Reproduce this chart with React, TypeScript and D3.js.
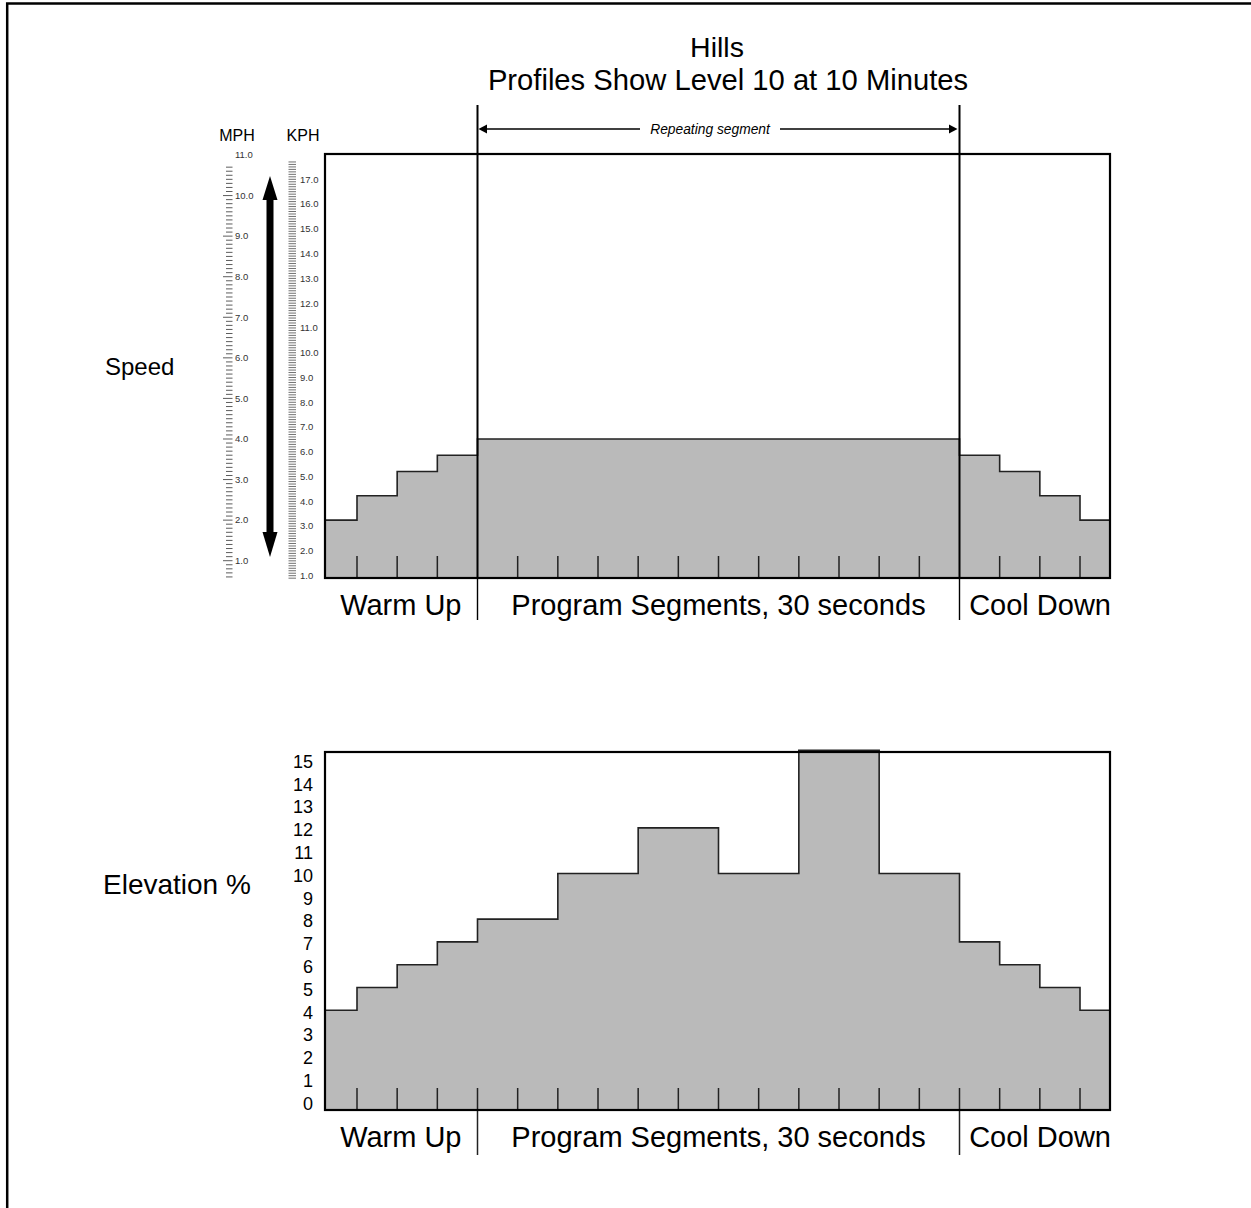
import React from 'react';
import * as d3 from 'd3';

// ---- data ----
const titleLines = ['Hills', 'Profiles Show Level 10 at 10 Minutes'];
const phaseLabels = ['Warm Up', 'Program Segments, 30 seconds', 'Cool Down'];
const phaseBounds = [4, 16]; // segment index where program starts / cool-down starts
const speedMph = [2.0, 2.6, 3.2, 3.6, 4.0, 4.0, 4.0, 4.0, 4.0, 4.0, 4.0, 4.0, 4.0, 4.0, 4.0, 4.0, 3.6, 3.2, 2.6, 2.0];
const elevationPct = [4, 5, 6, 7, 8, 8, 10, 10, 12, 12, 10, 10, 15.4, 15.4, 10, 10, 7, 6, 5, 4];
const mphLabels = [1, 2, 3, 4, 5, 6, 7, 8, 9, 10, 11];
const kphLabels = [1, 2, 3, 4, 5, 6, 7, 8, 9, 10, 11, 12, 13, 14, 15, 16, 17];
const elevationLabels = [0, 1, 2, 3, 4, 5, 6, 7, 8, 9, 10, 11, 12, 13, 14, 15];
const mphMinorRange = [6, 107]; // tenths of mph
const kphMinorRange = [9, 177]; // tenths of kph

const FONT = '"Liberation Sans", Arial, Helvetica, sans-serif';

export default function App() {
  const W = 1251, H = 1208;
  const L = 325, R = 1110;
  const x = d3.scaleLinear().domain([1, 19]).range([357, 1080]);
  const xc = (i: number) => Math.max(L, Math.min(R, x(i)));

  const topT = 154, topB = 578;
  const botT = 752, botB = 1110;
  const ySpeed = d3.scaleLinear().domain([1, 11]).range([560.7, 155]);
  const yKph = d3.scaleLinear().domain([1, 17]).range([575.7, 179.3]);
  const yElev = d3.scaleLinear().domain([0, 15]).range([1101.5, 759.5]);

  const stepPts = (vals: number[], y: (v: number) => number): [number, number][] =>
    vals.map((v, i) => [xc(i), y(v)] as [number, number]).concat([[R, y(vals[vals.length - 1])]]);

  const line = d3.line().curve(d3.curveStepAfter);
  const areaTop = d3.area().x(d => d[0]).y0(topB).y1(d => d[1]).curve(d3.curveStepAfter);
  const areaBot = d3.area().x(d => d[0]).y0(botB).y1(d => d[1]).curve(d3.curveStepAfter);

  const speedPts = stepPts(speedMph, ySpeed);
  const elevPts = stepPts(elevationPct, yElev);

  const tickIdx = d3.range(1, speedMph.length);
  const xProg = x(phaseBounds[0]);
  const xCool = x(phaseBounds[1]);

  const phaseText = (baseline: number) => (
    <g fontFamily={FONT} fontSize={29} fill="#000">
      <text x={xProg - 16} y={baseline} textAnchor="end">{phaseLabels[0]}</text>
      <text x={(xProg + xCool) / 2} y={baseline} textAnchor="middle">{phaseLabels[1]}</text>
      <text x={R + 1} y={baseline} textAnchor="end">{phaseLabels[2]}</text>
    </g>
  );

  const mphMinor = d3.range(mphMinorRange[0], mphMinorRange[1] + 1).map(v => v / 10);
  const kphMinor = d3.range(kphMinorRange[0], kphMinorRange[1] + 1).map(v => v / 10);

  return (
    <svg width={W} height={H} style={{ position: 'absolute', left: 0, top: 0, background: '#fff' }}>
      <rect x={0} y={0} width={W} height={H} fill="#fff" />
      {/* outer border */}
      <path d={`M7.2,${H} V3.5 H${W}`} fill="none" stroke="#000" strokeWidth={2.5} />

      {/* titles */}
      <text x={717} y={57} textAnchor="middle" fontFamily={FONT} fontSize={28.5}>{titleLines[0]}</text>
      <text x={728} y={90} textAnchor="middle" fontFamily={FONT} fontSize={29.2}>{titleLines[1]}</text>

      {/* repeating segment arrow */}
      <g stroke="#000" strokeWidth={1.3}>
        <line x1={482} x2={640} y1={129} y2={129} />
        <line x1={780} x2={954} y1={129} y2={129} />
      </g>
      <path d="M478.5,129 L487,124.5 L487,133.5 Z" fill="#000" />
      <path d="M957.5,129 L949,124.5 L949,133.5 Z" fill="#000" />
      <text x={710} y={134} textAnchor="middle" fontFamily={FONT} fontStyle="italic" fontSize={13.8}>Repeating segment</text>

      {/* side labels */}
      <text x={105} y={375} fontFamily={FONT} fontSize={24}>Speed</text>
      <text x={103} y={894} fontFamily={FONT} fontSize={28}>Elevation %</text>

      {/* MPH / KPH headers */}
      <text x={237} y={141} textAnchor="middle" fontFamily={FONT} fontSize={16}>MPH</text>
      <text x={303} y={141} textAnchor="middle" fontFamily={FONT} fontSize={16}>KPH</text>

      {/* MPH ruler */}
      <g stroke="#333" strokeWidth={0.8}>
        {mphMinor.map(v => (
          <line key={'m' + v} x1={Math.abs(v - Math.round(v)) < 1e-6 ? 223 : 226} x2={232.5} y1={ySpeed(v)} y2={ySpeed(v)} />
        ))}
      </g>
      <g fontFamily={FONT} fontSize={9.5} fill="#333">
        {mphLabels.map(v => (
          <text key={'ml' + v} x={235} y={ySpeed(v)} dy="0.35em">{v.toFixed(1)}</text>
        ))}
      </g>

      {/* KPH ruler */}
      <g stroke="#333" strokeWidth={0.7}>
        {kphMinor.map(v => (
          <line key={'k' + v} x1={288.5} x2={296} y1={yKph(v)} y2={yKph(v)} />
        ))}
      </g>
      <g fontFamily={FONT} fontSize={9.5} fill="#333">
        {kphLabels.map(v => (
          <text key={'kl' + v} x={300} y={yKph(v)} dy="0.35em">{v.toFixed(1)}</text>
        ))}
      </g>

      {/* double arrow */}
      <line x1={270} x2={270} y1={195} y2={537} stroke="#000" strokeWidth={7} />
      <path d="M270,176 L277.5,200 L262.5,200 Z" fill="#000" />
      <path d="M270,557 L277.5,532 L262.5,532 Z" fill="#000" />

      {/* ---- speed chart ---- */}
      <path d={areaTop(speedPts) || ''} fill="#bababa" />
      <path d={line(speedPts) || ''} fill="none" stroke="#222" strokeWidth={1.6} />
      <g stroke="#222" strokeWidth={1.5}>
        {tickIdx.filter(i => !phaseBounds.includes(i)).map(i => (
          <line key={'tt' + i} x1={x(i)} x2={x(i)} y1={topB - 22} y2={topB} />
        ))}
      </g>
      <rect x={L} y={topT} width={R - L} height={topB - topT} fill="none" stroke="#000" strokeWidth={2.2} />
      {phaseBounds.map(i => (
        <g key={'pb' + i} stroke="#000">
          <line x1={x(i)} x2={x(i)} y1={105} y2={topB} strokeWidth={2} />
          <line x1={x(i)} x2={x(i)} y1={topB} y2={620} strokeWidth={1.4} />
        </g>
      ))}
      {phaseText(614.5)}

      {/* ---- elevation chart ---- */}
      <path d={areaBot(elevPts) || ''} fill="#bababa" />
      <path d={line(elevPts) || ''} fill="none" stroke="#222" strokeWidth={1.6} />
      <g stroke="#222" strokeWidth={1.5}>
        {tickIdx.map(i => (
          <line key={'bt' + i} x1={x(i)} x2={x(i)} y1={botB - 22} y2={phaseBounds.includes(i) ? 1155 : botB} />
        ))}
      </g>
      <rect x={L} y={botT} width={R - L} height={botB - botT} fill="none" stroke="#000" strokeWidth={2.2} />
      <g fontFamily={FONT} fontSize={18} fill="#000">
        {elevationLabels.map(v => (
          <text key={'el' + v} x={313} y={yElev(v) + 2} dy="0.35em" textAnchor="end">{v}</text>
        ))}
      </g>
      {phaseText(1146.7)}
    </svg>
  );
}
